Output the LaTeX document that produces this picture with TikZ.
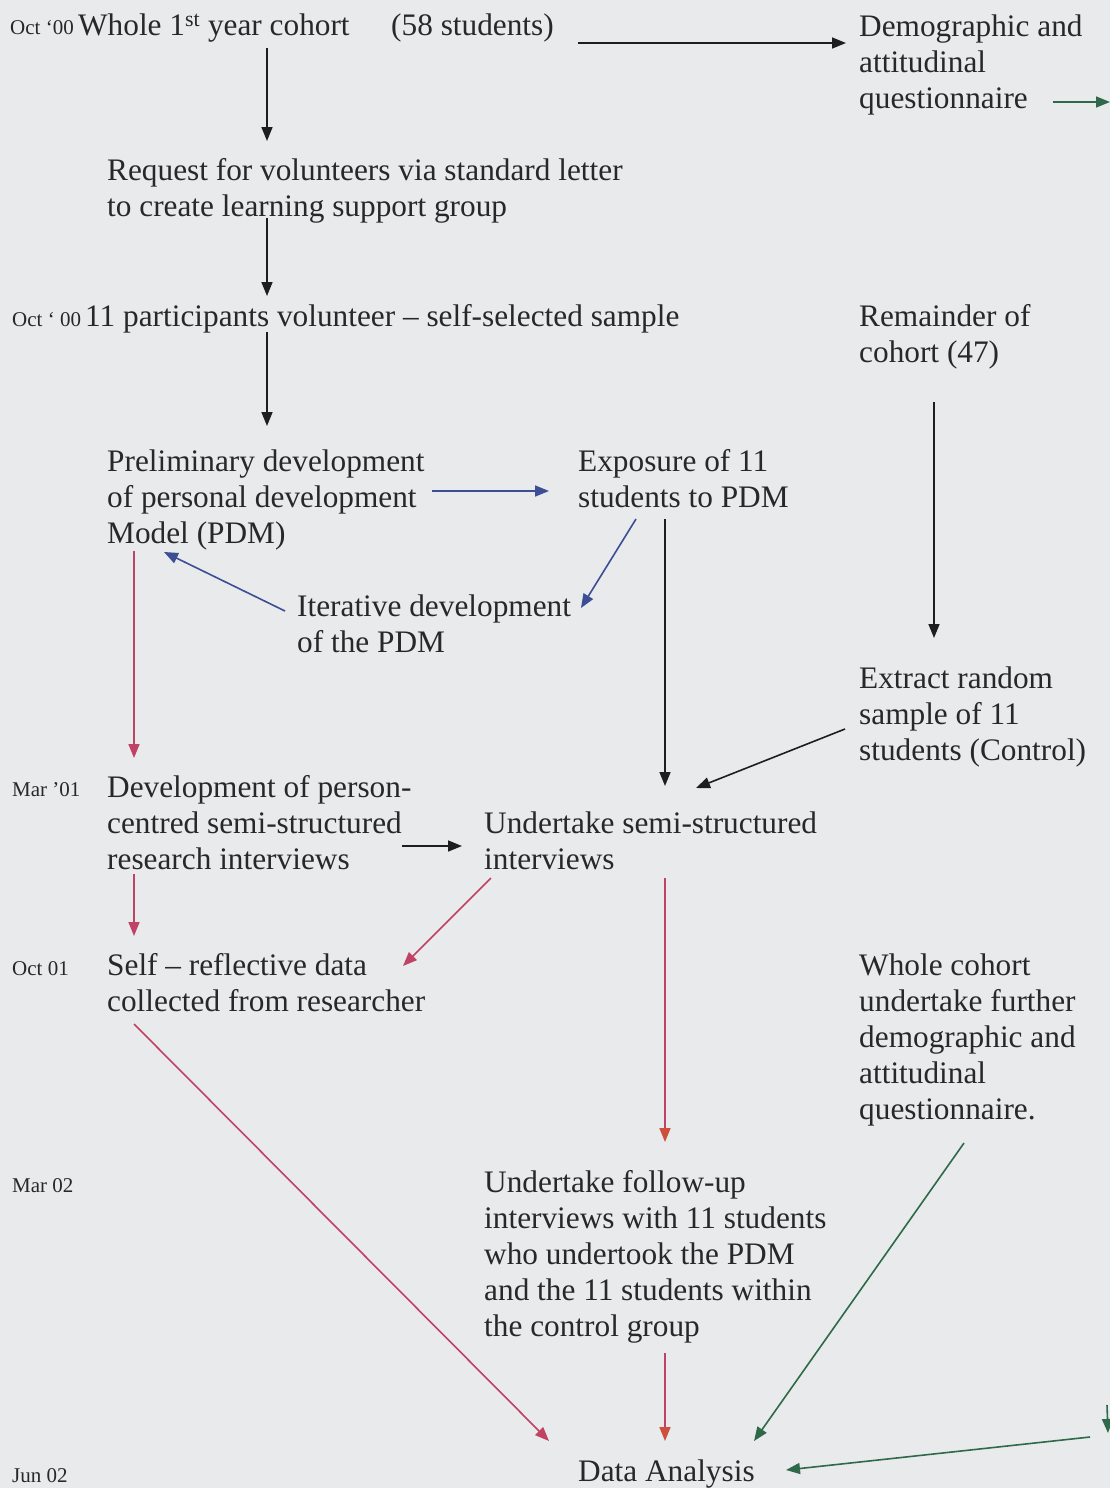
\documentclass[tikz,border=0pt]{standalone}
\usepackage{fontspec}
\setmainfont{Liberation Serif}
\usetikzlibrary{arrows.meta}
\definecolor{bg}{RGB}{233,234,235}
\definecolor{ink}{RGB}{40,40,42}
\definecolor{blk}{RGB}{30,30,32}
\definecolor{rd}{RGB}{192,66,100}
\definecolor{org}{RGB}{205,80,60}
\definecolor{bl}{RGB}{60,78,148}
\definecolor{gr}{RGB}{46,106,74}
\begin{document}
\begin{tikzpicture}[x=1pt,y=-1pt,
  txt/.style={anchor=base west, inner sep=0pt, align=left, font=\fontsize{31.3}{36}\selectfont, text=ink},
  datelbl/.style={anchor=base west, inner sep=0pt, font=\fontsize{21}{24}\selectfont, text=ink},
  arr/.style={line width=1.6pt, -{Triangle[length=14pt,width=11pt]}},
  karr/.style={arr, blk},
  rarr/.style={arr, rd},
  barr/.style={arr, bl},
  garr/.style={arr, gr},
  oarr/.style={rd, line width=1.6pt, -{Triangle[length=14pt,width=11pt,color=org]}}]
\fill[bg] (0,0) rectangle (1110,1488);
\useasboundingbox (0,0) rectangle (1110,1488);

% dates
\node[datelbl] (d1) at (10,35) {Oct `00};
\node[datelbl] (d2) at (12,326) {Oct ` 00};
\node[datelbl] (d3) at (12,796) {Mar '01};
\node[datelbl] (d4) at (12,975) {Oct 01};
\node[datelbl] (d5) at (12,1192) {Mar 02};
\node[datelbl] (d6) at (12,1482) {Jun 02};

% texts (anchored at the baseline of their last line)
\node[txt] (cohort) at (78,36) {Whole 1\textsuperscript{st} year cohort};
\node[txt] (count) at (391,36) {(58 students)};
\node[txt] (demo) at (859,108) {Demographic and\\attitudinal\\questionnaire};
\node[txt] (request) at (107,216) {Request for volunteers via standard letter\\to create learning support group};
\node[txt] (volunteer) at (85,326) {11 participants volunteer -- self-selected sample};
\node[txt] (remainder) at (859,362) {Remainder of\\cohort (47)};
\node[txt] (prelim) at (107,543) {Preliminary development\\of personal development\\Model (PDM)};
\node[txt] (exposure) at (578,507) {Exposure of 11\\students to PDM};
\node[txt] (iter) at (297,652) {Iterative development\\of the PDM};
\node[txt] (extract) at (859,760) {Extract random\\sample of 11\\students (Control)};
\node[txt] (devint) at (107,869) {Development of person-\\centred semi-structured\\research interviews};
\node[txt] (undertake) at (484,869) {Undertake semi-structured\\interviews};
\node[txt] (self) at (107,1011) {Self -- reflective data\\collected from researcher};
\node[txt] (whole) at (859,1119) {Whole cohort\\undertake further\\demographic and\\attitudinal\\questionnaire.};
\node[txt] (followup) at (484,1336) {Undertake follow-up\\interviews with 11 students\\who undertook the PDM\\and the 11 students within\\the control group};
\node[txt] (analysis) at (578,1481) {Data Analysis};

% connector end points
\coordinate (a1s) at (267,48);   \coordinate (a1e) at (267,141);
\coordinate (a2s) at (578,43);   \coordinate (a2e) at (846,43);
\coordinate (a3s) at (1053,102); \coordinate (a3e) at (1110,102);
\coordinate (a4s) at (267,218);  \coordinate (a4e) at (267,296);
\coordinate (a5s) at (267,332);  \coordinate (a5e) at (267,426);
\coordinate (a6s) at (432,491);  \coordinate (a6e) at (549,491);
\coordinate (a7s) at (636,519);  \coordinate (a7e) at (581,608);
\coordinate (a8s) at (285,611);  \coordinate (a8e) at (164,552);
\coordinate (a9s) at (134,551);  \coordinate (a9e) at (134,758);
\coordinate (a10s) at (665,519); \coordinate (a10e) at (665,786);
\coordinate (a11s) at (934,402); \coordinate (a11e) at (934,638);
\coordinate (a12s) at (845,729); \coordinate (a12e) at (696,788);
\coordinate (a13s) at (402,846); \coordinate (a13e) at (462,846);
\coordinate (a14s) at (134,874); \coordinate (a14e) at (134,936);
\coordinate (a15s) at (491,878); \coordinate (a15e) at (403,966);
\coordinate (a16s) at (665,878); \coordinate (a16e) at (665,1142);
\coordinate (a17s) at (134,1024);\coordinate (a17e) at (549,1441);
\coordinate (a18s) at (665,1353);\coordinate (a18e) at (665,1441);
\coordinate (a19s) at (964,1143);\coordinate (a19e) at (754,1441);
\coordinate (a20s) at (1090,1437);\coordinate (a20e) at (786,1470);
\coordinate (a21s) at (1107,1405);\coordinate (a21e) at (1108,1433);

% connectors
\draw[karr] (a1s) -- (a1e);
\draw[karr] (a2s) -- (a2e);
\draw[garr] (a3s) -- (a3e);
\draw[karr] (a4s) -- (a4e);
\draw[karr] (a5s) -- (a5e);
\draw[barr] (a6s) -- (a6e);
\draw[barr] (a7s) -- (a7e);
\draw[barr] (a8s) -- (a8e);
\draw[rarr] (a9s) -- (a9e);
\draw[karr] (a10s) -- (a10e);
\draw[karr] (a11s) -- (a11e);
\draw[karr] (a12s) -- (a12e);
\draw[karr] (a13s) -- (a13e);
\draw[rarr] (a14s) -- (a14e);
\draw[rarr] (a15s) -- (a15e);
\draw[oarr] (a16s) -- (a16e);
\draw[rarr] (a17s) -- (a17e);
\draw[oarr] (a18s) -- (a18e);
\draw[garr] (a19s) -- (a19e);
\draw[garr] (a20s) -- (a20e);
\draw[garr] (a21s) -- (a21e);
\end{tikzpicture}
\end{document}
